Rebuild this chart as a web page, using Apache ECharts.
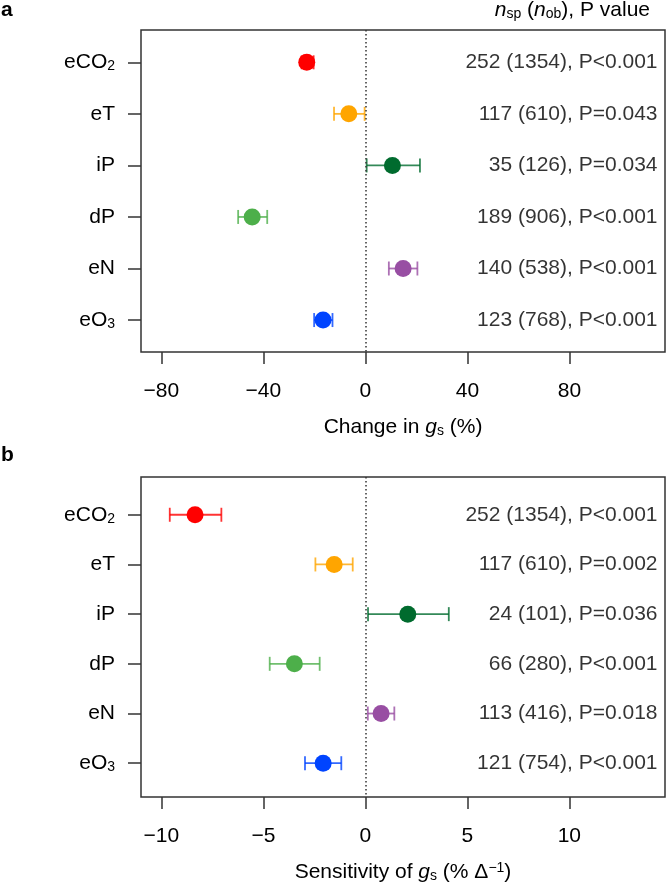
<!DOCTYPE html>
<html>
<head>
<meta charset="utf-8">
<script src="https://cdn.jsdelivr.net/npm/echarts@6/dist/echarts.min.js"></script>
<style>
html,body{margin:0;padding:0;background:#fff;}
#c{width:666px;height:884px;}
</style>
</head>
<body>
<div id="c"></div>
<script>
// ---- data ----
const rows = ['eCO2', 'eT', 'iP', 'dP', 'eN', 'eO3'];
const colors = ['#FF0000', '#FFA500', '#006B2E', '#4DAF4A', '#984EA3', '#0044FF'];

const aMean = [-23.0, -6.5, 10.6, -44.4, 14.8, -16.6];
const aLow  = [-25.0, -12.3, 0.5, -49.9, 9.2, -20.1];
const aHigh = [-20.3, -0.3, 21.4, -38.5, 20.4, -12.9];
const aText = ['252 (1354), P<0.001', '117 (610), P=0.043', '35 (126), P=0.034',
               '189 (906), P<0.001', '140 (538), P<0.001', '123 (768), P<0.001'];
const aTicks = [-80, -40, 0, 40, 80];

const bMean = [-8.35, -1.53, 2.08, -3.48, 0.77, -2.07];
const bLow  = [-9.59, -2.45, 0.13, -4.69, 0.12, -2.96];
const bHigh = [-7.06, -0.62, 4.09, -2.24, 1.42, -1.18];
const bText = ['252 (1354), P<0.001', '117 (610), P=0.002', '24 (101), P=0.036',
               '66 (280), P<0.001', '113 (416), P=0.018', '121 (754), P<0.001'];
const bTicks = [-10, -5, 0, 5, 10];

// ---- chart ----
const FONT = '"Liberation Sans", Arial, Helvetica, sans-serif';
const FS = 21;
const TC = '#000';
const rowPos = rows.map((_, i) => i + 1);
const richBase = {
  n: {fontSize: FS, fontFamily: FONT, color: TC},
  it: {fontSize: FS, fontFamily: FONT, fontStyle: 'italic', color: TC},
  sub: {fontSize: 14, fontFamily: FONT, color: TC, padding: [8, 0, 0, 0]},
  sup: {fontSize: 14, fontFamily: FONT, color: TC, padding: [0, 0, 8, 0]}
};
function rowLabel(name) {
  const m = name.match(/^(.*?)(\d+)$/);
  return m ? '{n|' + m[1] + '}{sub|' + m[2] + '}' : '{n|' + name + '}';
}
const minus = v => (v < 0 ? '\u2212' + Math.abs(v) : String(v));

const chart = echarts.init(document.getElementById('c'), null, {renderer: 'canvas'});

function xAxisCfg(gridIndex, min, max, ticks, nameRich) {
  return {
    type: 'value', gridIndex, min, max, position: 'bottom',
    axisLine: {show: false, onZero: false},
    splitLine: {show: false},
    axisTick: {show: true, customValues: ticks, length: 12, inside: false,
               lineStyle: {color: '#333', width: 1.5}},
    axisLabel: {show: true, customValues: ticks, margin: 29, formatter: minus,
                fontSize: FS, fontFamily: FONT, color: TC},
    name: nameRich, nameLocation: 'middle', nameGap: 64,
    nameTextStyle: {fontSize: FS, fontFamily: FONT, color: TC, rich: richBase}
  };
}
function yAxisCfg(gridIndex, min, max) {
  return {
    type: 'value', gridIndex, min, max, inverse: true, position: 'left',
    axisLine: {show: false, onZero: false},
    splitLine: {show: false},
    axisTick: {show: true, customValues: rowPos, length: 13,
               lineStyle: {color: '#333', width: 1.5}},
    axisLabel: {show: true, customValues: rowPos, margin: 26,
                formatter: v => rowLabel(rows[Math.round(v) - 1]),
                rich: richBase, fontSize: FS, fontFamily: FONT, color: TC}
  };
}

function errSeries(idx, low, high) {
  return {
    type: 'custom', xAxisIndex: idx, yAxisIndex: idx, z: 2,
    data: low.map((l, i) => [l, high[i], i + 1, i]),
    encode: {x: [0, 1], y: 2},
    renderItem: function (params, api) {
      const p0 = api.coord([api.value(0), api.value(2)]);
      const p1 = api.coord([api.value(1), api.value(2)]);
      const c = colors[api.value(3)];
      const h = 7;
      const st = {stroke: c, lineWidth: 1.8, opacity: 0.8};
      return {type: 'group', children: [
        {type: 'line', shape: {x1: p0[0], y1: p0[1], x2: p1[0], y2: p1[1]}, style: st},
        {type: 'line', shape: {x1: p0[0], y1: p0[1] - h, x2: p0[0], y2: p0[1] + h}, style: st},
        {type: 'line', shape: {x1: p1[0], y1: p1[1] - h, x2: p1[0], y2: p1[1] + h}, style: st}
      ]};
    }
  };
}
function ptSeries(idx, mean) {
  return {
    type: 'scatter', xAxisIndex: idx, yAxisIndex: idx, z: 3,
    symbol: 'circle', symbolSize: 17,
    data: mean.map((m, i) => ({value: [m, i + 1], itemStyle: {color: colors[i], opacity: 1}})),
    markLine: {
      silent: true, symbol: 'none', animation: false,
      label: {show: false},
      lineStyle: {type: [1.5, 2.5], color: '#333', width: 1.5},
      data: [{xAxis: 0}]
    }
  };
}
function textSeries(idx, xmax, texts) {
  return {
    type: 'scatter', xAxisIndex: idx, yAxisIndex: idx, z: 4,
    symbolSize: 1, itemStyle: {color: 'rgba(0,0,0,0)'},
    data: texts.map((t, i) => ({value: [xmax, i + 1], txt: t})),
    label: {show: true, position: 'left', distance: 7,
            formatter: p => p.data.txt,
            fontSize: FS, fontFamily: FONT, color: TC}
  };
}

const aMin = -88, aMax = 117.5, bMin = -11.0, bMax = 14.69;

chart.setOption({
  animation: false,
  backgroundColor: '#fff',
  grid: [
    {left: 141, right: 1, top: 30, bottom: 884 - 352, show: true,
     borderColor: '#333', borderWidth: 1.5, containLabel: false},
    {left: 141, right: 1, top: 477, bottom: 884 - 799, show: true,
     borderColor: '#333', borderWidth: 1.5, containLabel: false}
  ],
  xAxis: [
    xAxisCfg(0, aMin, aMax, aTicks, '{n|Change in }{it|g}{sub|s}{n| (%)}'),
    xAxisCfg(1, bMin, bMax, bTicks, '{n|Sensitivity of }{it|g}{sub|s}{n| (% \u0394}{sup|\u22121}{n|)}')
  ],
  yAxis: [yAxisCfg(0, 0.373, 6.62), yAxisCfg(1, 0.24, 6.68)],
  graphic: [
    {type: 'text', left: 1, top: 0,
     style: {text: 'a', font: 'bold 21px ' + FONT, fill: '#000'}},
    {type: 'text', left: 1, top: 445,
     style: {text: 'b', font: 'bold 21px ' + FONT, fill: '#000'}},
    {type: 'text', right: 16, top: 0,
     style: {text: '{it|n}{sub|sp}{n| (}{it|n}{sub|ob}{n|), P value}', rich: richBase,
             font: FS + 'px ' + FONT, fill: TC}}
  ],
  series: [
    errSeries(0, aLow, aHigh), ptSeries(0, aMean), textSeries(0, aMax, aText),
    errSeries(1, bLow, bHigh), ptSeries(1, bMean), textSeries(1, bMax, bText)
  ]
});
</script>
</body>
</html>
